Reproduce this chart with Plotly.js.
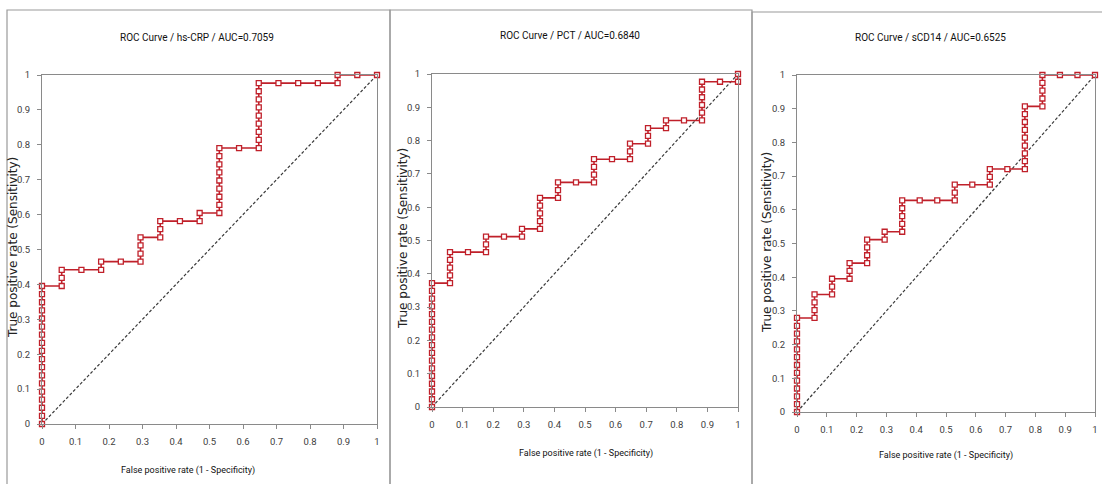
<!DOCTYPE html>
<html>
<head>
<meta charset="utf-8">
<script src="https://cdn.plot.ly/plotly-3.0.1.min.js"></script>
<style>
  html, body { margin: 0; padding: 0; background: #fff; }
  #chart { width: 1102px; height: 484px; }
</style>
</head>
<body>
<div id="chart"></div>
<script>
// ---- Data ----
// Each ROC curve: 17 negative cases, 43 positive cases.
// Cumulative true-positive count reached at false-positive count 0..17.
const negatives = 17;
const positives = 43;
const panelTitles = [
  "ROC Curve / hs-CRP / AUC=0.7059",
  "ROC Curve / PCT / AUC=0.6840",
  "ROC Curve / sCD14 / AUC=0.6525"
];
const hsCrpTP = [17, 19, 19, 20, 20, 23, 25, 25, 26, 34, 34, 42, 42, 42, 42, 43, 43, 43];
const pctTP   = [16, 20, 20, 22, 22, 23, 27, 29, 29, 32, 32, 34, 36, 37, 37, 42, 42, 43];
const scd14TP = [12, 15, 17, 19, 22, 23, 27, 27, 27, 29, 29, 31, 31, 39, 43, 43, 43, 43];
const diagX = [0, 1];
const diagY = [0, 1];
const tickVals = [0, 0.1, 0.2, 0.3, 0.4, 0.5, 0.6, 0.7, 0.8, 0.9, 1];
const tickText = ["0", "0.1", "0.2", "0.3", "0.4", "0.5", "0.6", "0.7", "0.8", "0.9", "1"];
const xTitle = "False positive rate (1 - Specificity)";
const yTitle = "True positive rate (Sensitivity)";

// ---- Build ROC points (one per threshold) from the counts ----
function rocPoints(levels) {
  const xs = [], ys = [];
  let prev = 0;
  for (let fp = 0; fp < levels.length; fp++) {
    for (let tp = prev; tp <= levels[fp]; tp++) {
      xs.push(fp / negatives);
      ys.push(tp / positives);
    }
    prev = levels[fp];
  }
  return { xs, ys };
}

// ---- Layout geometry (pixels in a 1102 x 484 canvas) ----
const W = 1102, H = 484;
const panels = [
  { x0: 42,  x1: 377,  y0: 424, y1: 75, title: [197, 37], xt: [188, 470], yt: [13, 248], box: [7, 10, 390] },
  { x0: 432, x1: 738,  y0: 407, y1: 74, title: [570, 35], xt: [586, 453], yt: [403, 239], box: [390, 10, 752] },
  { x0: 797, x1: 1095, y0: 412, y1: 75, title: [930, 38], xt: [946, 455], yt: [767, 243], box: [752, 12, 1110] }
];
const series = [hsCrpTP, pctTP, scd14TP];

const RED = "#c0202a";
const AXIS = "#8a8a8a";
const NARROW = "Roboto, 'Liberation Sans Narrow', sans-serif";

const traces = [];
const layout = {
  width: W, height: H,
  margin: { l: 0, r: 0, t: 0, b: 0 },
  paper_bgcolor: "#ffffff",
  plot_bgcolor: "#ffffff",
  showlegend: false,
  annotations: [],
  shapes: []
};

panels.forEach((p, i) => {
  const n = i + 1;
  const xa = n === 1 ? "x" : "x" + n;
  const ya = n === 1 ? "y" : "y" + n;
  const xKey = n === 1 ? "xaxis" : "xaxis" + n;
  const yKey = n === 1 ? "yaxis" : "yaxis" + n;

  const pts = rocPoints(series[i]);
  traces.push({
    x: diagX, y: diagY, xaxis: xa, yaxis: ya,
    mode: "lines", type: "scatter", hoverinfo: "skip",
    line: { color: "#3a3a3a", width: 1.2, dash: "3px,2px" },
    cliponaxis: false
  });
  traces.push({
    x: pts.xs, y: pts.ys, xaxis: xa, yaxis: ya,
    mode: "lines+markers", type: "scatter",
    line: { color: RED, width: 1.6 },
    marker: { symbol: "square", size: 5, color: "#ffffff", line: { color: RED, width: 1.3 } },
    cliponaxis: false
  });

  const common = {
    range: [0, 1], fixedrange: true,
    showgrid: false, zeroline: false,
    showline: true, linecolor: AXIS, linewidth: 1, mirror: true,
    ticks: "outside", ticklen: 4, tickcolor: AXIS, tickwidth: 1,
    tickmode: "array", tickvals: tickVals, ticktext: tickText,
    tickfont: { family: NARROW, size: 9.5, color: "#404040" }
  };
  layout[xKey] = Object.assign({}, common, {
    domain: [p.x0 / W, p.x1 / W], anchor: ya, ticklabelstandoff: 5
  });
  layout[yKey] = Object.assign({}, common, {
    domain: [1 - p.y0 / H, 1 - p.y1 / H], anchor: xa, ticklabelstandoff: 5
  });

  layout.annotations.push({
    text: panelTitles[i], xref: "paper", yref: "paper",
    x: p.title[0] / W, y: 1 - p.title[1] / H, xanchor: "center", yanchor: "middle",
    showarrow: false, font: { family: NARROW, size: 10, color: "#111111" }
  });
  layout.annotations.push({
    text: xTitle, xref: "paper", yref: "paper",
    x: p.xt[0] / W, y: 1 - p.xt[1] / H, xanchor: "center", yanchor: "middle",
    showarrow: false, font: { family: NARROW, size: 9, color: "#111111" }
  });
  layout.annotations.push({
    text: yTitle, xref: "paper", yref: "paper",
    x: p.yt[0] / W, y: 1 - p.yt[1] / H, xanchor: "center", yanchor: "middle",
    textangle: -90,
    showarrow: false, font: { family: "'DejaVu Sans', Verdana, sans-serif", size: 12, color: "#222222" }
  });
  layout.shapes.push({
    type: "rect", xref: "paper", yref: "paper", layer: "below",
    x0: p.box[0] / W, x1: p.box[2] / W, y0: -0.05, y1: 1 - p.box[1] / H,
    line: { color: "#9a9a9a", width: 1.2 }, fillcolor: "rgba(0,0,0,0)"
  });
});

Plotly.newPlot("chart", traces, layout, { staticPlot: true, displayModeBar: false });
</script>
</body>
</html>
